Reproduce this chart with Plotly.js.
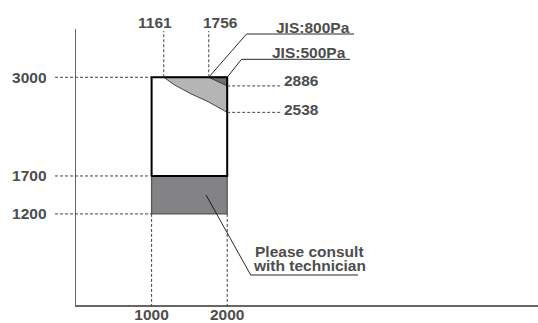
<!DOCTYPE html>
<html><head><meta charset="utf-8">
<script src="https://cdn.plot.ly/plotly-3.0.1.min.js"></script>
<style>html,body{margin:0;padding:0;background:#fff;overflow:hidden}</style>
</head><body><div id="chart" style="width:538px;height:323px"></div>
<script>
// ---------- data ----------
const xTicks = [1000, 2000];
const xTickText = ['1000', '2000'];
const yTicks = [1200, 1700, 3000];
const yTickText = ['1200', '1700', '3000'];
const boxX = [1000, 2000];          // airflow range
const boxY = [1700, 3000];          // usable range (white box)
const consultY = [1200, 1700];      // "please consult" band
const jis800X = [1161, 1305, 1525, 1746, 2000];
const jis800Y = [3000, 2898, 2780, 2679, 2538];
const jis500X = [1756, 1880, 2000];
const jis500Y = [3000, 2945, 2886];
const jis800Label = 'JIS:800Pa';
const jis500Label = 'JIS:500Pa';
const consultLines = ['Please consult', 'with technician'];

// ---------- layout geometry ----------
const W = 538, H = 323;
const M = {l: 76, r: 0, t: 29, b: 18};
const xRange = [0, 6111];
const yRange = [0, 3636];
const PW = W - M.l - M.r, PH = H - M.t - M.b;
// pixel -> data / paper helpers for label placement
const X = px => xRange[0] + (px - M.l) / PW * (xRange[1] - xRange[0]);
const Y = py => yRange[0] + (M.t + PH - py) / PH * (yRange[1] - yRange[0]);
const PX = px => (px - M.l) / PW;
const PY = py => (M.t + PH - py) / PH;
const dX = v => (v - xRange[0]) / (xRange[1] - xRange[0]);
const dY = v => (v - yRange[0]) / (yRange[1] - yRange[0]);

const FONT = {family: 'Liberation Sans, Arial, sans-serif', size: 15.5, color: '#4d4d4d', weight: 'bold'};
const DASH = {color: '#444', width: 1, dash: '3px,2px'};
const LEAD = {color: '#111', width: 0.9};

const rect = (xs, ys) => ({x: [xs[0], xs[1], xs[1], xs[0], xs[0]], y: [ys[0], ys[0], ys[1], ys[1], ys[0]]});

const traces = [];
traces.push(Object.assign(rect(boxX, boxY), {type: 'scatter', mode: 'lines', fill: 'toself',
  fillcolor: '#ffffff', line: {width: 0}, hoverinfo: 'skip', showlegend: false}));
traces.push(Object.assign(rect(boxX, consultY), {type: 'scatter', mode: 'lines', fill: 'toself',
  fillcolor: '#838385', line: {color: '#555', width: 1.3}, hoverinfo: 'skip', showlegend: false}));
traces.push({type: 'scatter', mode: 'lines', fill: 'toself', fillcolor: '#b5b5b5',
  x: jis800X.concat([boxX[1], jis800X[0]]), y: jis800Y.concat([boxY[1], jis800Y[0]]),
  line: {color: '#333', width: 0.9}, hoverinfo: 'skip', showlegend: false});
traces.push({type: 'scatter', mode: 'lines', fill: 'toself', fillcolor: '#707070',
  x: jis500X.concat([boxX[1], jis500X[0]]), y: jis500Y.concat([boxY[1], jis500Y[0]]),
  line: {color: '#333', width: 0.9}, hoverinfo: 'skip', showlegend: false});
traces.push(Object.assign(rect(boxX, boxY), {type: 'scatter', mode: 'lines',
  line: {color: '#000', width: 2}, hoverinfo: 'skip', showlegend: false}));

const shapes = [];
const line = (x0, y0, x1, y1, l, xref, yref) => ({type: 'line', x0, y0, x1, y1, line: l, xref: xref || 'x', yref: yref || 'y', layer: 'above'});
yTicks.forEach(v => shapes.push(line(PX(55), v, dX(boxX[0]), v, DASH, 'paper', 'y')));
boxX.forEach(v => shapes.push(line(v, dY(consultY[0]), v, PY(308), DASH, 'x', 'paper')));
[jis800X[0], jis500X[0]].forEach(v => shapes.push(line(v, boxY[1], v, Y(31), DASH)));
[jis500Y[jis500Y.length - 1], jis800Y[jis800Y.length - 1]].forEach(v => shapes.push(line(boxX[1], v, X(282), v, DASH)));
const path = pts => ({type: 'path', xref: 'x', yref: 'y', layer: 'above', line: LEAD,
  path: 'M' + pts.map(p => p[0] + ',' + p[1]).join('L')});
shapes.push(path([[jis500X[0], boxY[1]], [X(246.5), Y(34)], [X(354), Y(34)]]));
shapes.push(path([[boxX[1], boxY[1]], [X(241.5), Y(59.3)], [X(350), Y(59.3)]]));
shapes.push(path([[1720, (consultY[0] + consultY[1]) / 2], [X(250.7), Y(275)], [X(358), Y(275)]]));

const ann = (text, x, y, xa, extra) => Object.assign({text, x, y, xref: 'x', yref: 'y', xanchor: xa, yanchor: 'middle',
  showarrow: false, font: FONT}, extra || {});
const annotations = [
  ann(String(jis800X[0]), jis800X[0], PY(22), 'center', {xshift: -9, yref: 'paper'}),
  ann(String(jis500X[0]), jis500X[0], PY(22), 'center', {xshift: 12, yref: 'paper'}),
  ann(jis800Label, X(352), PY(28), 'right', {yref: 'paper'}),
  ann(jis500Label, X(347.5), Y(52), 'right'),
  ann(String(jis500Y[jis500Y.length - 1]), X(281.5), jis500Y[jis500Y.length - 1], 'left', {yshift: 5}),
  ann(String(jis800Y[jis800Y.length - 1]), X(281.5), jis800Y[jis800Y.length - 1], 'left', {yshift: 3}),
  ann(consultLines[0], X(252.5), Y(251.7), 'left'),
  ann(consultLines[1], X(250.5), Y(265.3), 'left')
];

const layout = {
  width: W, height: H, margin: M, paper_bgcolor: '#fff', plot_bgcolor: '#fff',
  showlegend: false,
  xaxis: {range: xRange, showgrid: false, zeroline: false, showline: true, linecolor: '#666', linewidth: 1.6,
    tickvals: xTicks, ticktext: xTickText, ticks: '', tickfont: FONT, ticklabelstandoff: -5, fixedrange: true},
  yaxis: {range: yRange, showgrid: false, zeroline: false, showline: true, linecolor: '#666', linewidth: 1.4,
    tickvals: yTicks, ticktext: yTickText, ticks: '', tickfont: FONT, ticklabelstandoff: 25, fixedrange: true},
  shapes, annotations
};
Plotly.newPlot('chart', traces, layout, {staticPlot: true, displayModeBar: false});
</script></body></html>
